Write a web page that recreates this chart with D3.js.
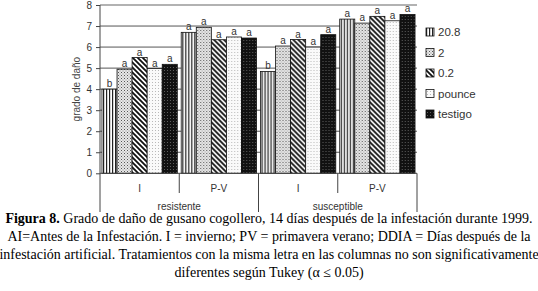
<!DOCTYPE html>
<html><head><meta charset="utf-8">
<script src="https://cdn.jsdelivr.net/npm/d3@7"></script>
<style>
body{margin:0;background:#fff;}
svg{display:block;}
</style></head>
<body>
<svg id="chart" width="538" height="291"></svg>
<script>
const groups = ["resistente","susceptible"];
const seasons = ["I","P-V"];
const treatments = ["20.8","2","0.2","pounce","testigo"];
const values = [
  [4.00, 4.95, 5.50, 4.98, 5.18],   // resistente I
  [6.70, 6.94, 6.35, 6.48, 6.43],   // resistente P-V
  [4.84, 6.05, 6.36, 6.00, 6.59],   // susceptible I
  [7.33, 7.14, 7.46, 7.25, 7.55]    // susceptible P-V
];
const letters = [
  ["b","a","a","a","a"],
  ["a","a","a","a","a"],
  ["b","a","a","a","a"],
  ["a","a","a","a","a"]
];
const yTicks = [0,1,2,3,4,5,6,7,8];
const captionLines = [
  [{b:true,t:"Figura 8."},{b:false,t:" Grado de daño de gusano cogollero, 14 días después de la infestación durante 1999."}],
  [{b:false,t:"AI=Antes de la Infestación. I = invierno; PV = primavera verano; DDIA = Días después de la"}],
  [{b:false,t:"infestación artificial. Tratamientos con la misma letra en las columnas no son significativamente"}],
  [{b:false,t:"diferentes según Tukey (α ≤ 0.05)"}]
];

const svg = d3.select("#chart");
const L = 100, R = 417, T = 5, B = 173.3;
const SANS = "Arial, 'Liberation Sans', sans-serif";

// patterns
const defs = svg.append("defs");
function pat(id, w, h, draw){
  const p = defs.append("pattern").attr("id",id).attr("patternUnits","userSpaceOnUse")
    .attr("width",w).attr("height",h);
  draw(p);
}
pat("p0",3,4,p=>{
  p.append("rect").attr("width",3).attr("height",4).attr("fill","#fff");
  p.append("rect").attr("x",0).attr("width",1.2).attr("height",4).attr("fill","#222");
});
pat("p1",3,3,p=>{
  p.append("rect").attr("width",3).attr("height",3).attr("fill","#e8e8e8");
  p.append("rect").attr("x",0).attr("y",0).attr("width",1).attr("height",1).attr("fill","#555");
  p.append("rect").attr("x",1.5).attr("y",1.5).attr("width",1).attr("height",1).attr("fill","#888");
});
pat("p2",5,5,p=>{
  p.append("rect").attr("width",5).attr("height",5).attr("fill","#fff");
  p.append("path").attr("d","M-1,-1 L6,6 M-1,4 L1,6 M4,-1 L6,1").attr("stroke","#111").attr("stroke-width",1.8);
});
pat("p3",3,3,p=>{
  p.append("rect").attr("width",3).attr("height",3).attr("fill","#fafafa");
  p.append("rect").attr("x",1).attr("y",1).attr("width",0.9).attr("height",0.9).attr("fill","#aaa");
});
pat("p4",3,3,p=>{
  p.append("rect").attr("width",3).attr("height",3).attr("fill","#111");
  p.append("rect").attr("x",1).attr("y",1).attr("width",0.8).attr("height",0.8).attr("fill","#888");
});
const fills = treatments.map((d,i)=>`url(#p${i})`);

const y = d3.scaleLinear().domain([0,8]).range([B,T]);
const catKeys = [];
groups.forEach(g=>seasons.forEach(s=>catKeys.push(g+"|"+s)));
const x0 = d3.scaleBand().domain(catKeys).range([L,R]).paddingInner(0).paddingOuter(0);
const x1 = d3.scaleBand().domain(treatments).range([0,x0.bandwidth()]).paddingInner(0).paddingOuter(0.13);

// gridlines
svg.append("g").selectAll("line").data(yTicks.filter(d=>d>0)).join("line")
  .attr("x1",L).attr("x2",R).attr("y1",d=>y(d)).attr("y2",d=>y(d))
  .attr("stroke",d=>d===8?"#999":"#555").attr("stroke-width",d=>d===8?1.5:1);

// y axis
const yAxis = d3.axisLeft(y).tickValues(yTicks).tickSize(4).tickPadding(4);
const ga = svg.append("g").attr("transform",`translate(${L},0)`).call(yAxis);
ga.select(".domain").remove();
ga.selectAll("line").attr("stroke","#444");
ga.selectAll("text").attr("font-family",SANS).attr("font-size",10).attr("fill","#333");

svg.append("text").attr("transform",`translate(80,${(T+B)/2}) rotate(-90)`)
  .attr("text-anchor","middle").attr("font-family",SANS)
  .attr("font-size",10).attr("fill","#444").text("grado de daño");

// bars
const bars = svg.append("g");
catKeys.forEach((k,ci)=>{
  const g = bars.append("g").attr("transform",`translate(${x0(k)},0)`);
  g.selectAll("rect").data(values[ci]).join("rect")
    .attr("x",(d,i)=>x1(treatments[i])).attr("width",x1.bandwidth())
    .attr("y",d=>y(d)).attr("height",d=>B-y(d))
    .attr("fill",(d,i)=>fills[i]).attr("stroke","#111").attr("stroke-width",0.8);
  g.selectAll("text").data(values[ci]).join("text")
    .attr("x",(d,i)=>x1(treatments[i])+x1.bandwidth()/2).attr("y",d=>y(d)-2)
    .attr("text-anchor","middle").attr("font-family",SANS)
    .attr("font-size",10).attr("fill","#333").text((d,i)=>letters[ci][i]);
});

// axis frame lines (drawn after bars)
const frame = svg.append("g").attr("stroke","#444").attr("stroke-width",1);
frame.append("line").attr("x1",L).attr("x2",L).attr("y1",T).attr("y2",212);
frame.append("line").attr("x1",L).attr("x2",R).attr("y1",B).attr("y2",B);
catKeys.forEach((k,ci)=>{
  const xe = x0(k)+x0.bandwidth();
  const yEnd = (ci%2===1) ? 212 : 193;
  frame.append("line").attr("x1",xe).attr("x2",xe).attr("y1",B).attr("y2",yEnd);
});

// x labels
const xl = svg.append("g").attr("font-family",SANS).attr("font-size",10).attr("fill","#333").attr("text-anchor","middle");
catKeys.forEach((k,ci)=>{
  xl.append("text").attr("x",x0(k)+x0.bandwidth()/2).attr("y",191.5).text(seasons[ci%2]);
});
groups.forEach((gname,gi)=>{
  const a = x0(gname+"|"+seasons[0]);
  const b = x0(gname+"|"+seasons[1])+x0.bandwidth();
  xl.append("text").attr("x",(a+b)/2).attr("y",209.5).text(gname);
});

// legend
const lg = svg.append("g").attr("transform","translate(426,0)");
treatments.forEach((t,i)=>{
  const cy = 32 + i*20.5;
  lg.append("rect").attr("x",0).attr("y",cy-4).attr("width",8).attr("height",8)
    .attr("fill",fills[i]).attr("stroke","#111").attr("stroke-width",0.8);
  lg.append("text").attr("x",12).attr("y",cy+4).attr("font-family",SANS)
    .attr("font-size",11.5).attr("fill","#333").text(t);
});

// caption
captionLines.forEach((line,li)=>{
  const t = svg.append("text").attr("x",269).attr("y",223+li*18).attr("text-anchor","middle")
    .attr("font-family","'Liberation Serif', 'Times New Roman', serif").attr("font-size",14).attr("fill","#000");
  line.forEach(seg=>t.append("tspan").attr("font-weight",seg.b?"bold":"normal").text(seg.t));
});
</script>
</body></html>
